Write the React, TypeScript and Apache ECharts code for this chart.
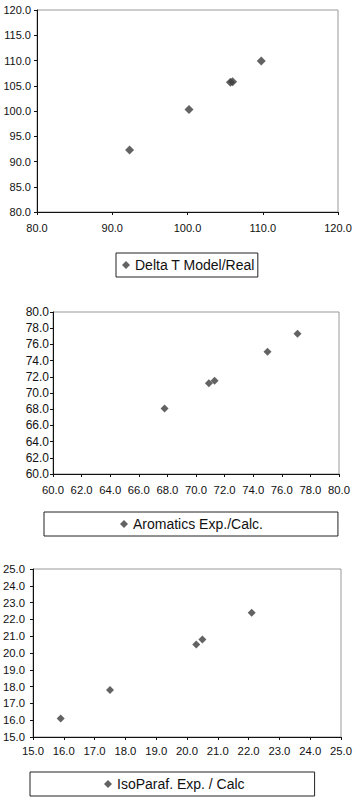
import React, { useEffect, useRef } from "react";
import * as echarts from "echarts";

const deltaTName = "Delta T Model/Real";
const deltaTX = [92.3, 100.2, 105.7, 106.0, 109.8];
const deltaTY = [92.3, 100.3, 105.7, 105.8, 109.9];

const aromName = "Aromatics Exp./Calc.";
const aromX = [67.8, 70.9, 71.3, 75.0, 77.1];
const aromY = [68.1, 71.2, 71.5, 75.1, 77.3];

const isoName = "IsoParaf. Exp. / Calc";
const isoX = [15.9, 17.5, 20.3, 20.5, 22.1];
const isoY = [16.1, 17.8, 20.5, 20.8, 22.4];

const FONT = "Liberation Sans, Arial, sans-serif";
const MARK = "#3c3c3c";

function axis(gridIndex: number, min: number, max: number, interval: number, fontSize: number, margin: number) {
  return {
    type: "value",
    gridIndex,
    min,
    max,
    interval,
    axisLine: { show: true, onZero: false, lineStyle: { color: "#111", width: 1 } },
    axisTick: { show: true, inside: false, length: 3, lineStyle: { color: "#111" } },
    splitLine: { show: false },
    axisLabel: {
      fontFamily: FONT,
      fontSize,
      color: "#111",
      margin,
      formatter: (v: number) => v.toFixed(1),
    },
  };
}

function legend(name: string, left: number, top: number, padding: number[]) {
  return {
    data: [{ name, icon: "diamond" }],
    left,
    top,
    orient: "horizontal",
    padding,
    itemWidth: 8,
    itemHeight: 8,
    selectedMode: false,
    borderColor: "#222",
    borderWidth: 1,
    textStyle: { fontFamily: FONT, fontSize: 14, color: "#111" },
  };
}

export default function App() {
  const ref = useRef<HTMLDivElement>(null);
  useEffect(() => {
    document.body.style.margin = "0";
    const chart = echarts.init(ref.current!, undefined, { renderer: "svg" });
    const pair = (xs: number[], ys: number[]) => xs.map((x, i) => [x, ys[i]]);
    chart.setOption({
      animation: false,
      backgroundColor: "#fff",
      grid: [
        { left: 37, top: 10, width: 301, height: 202, show: true, borderColor: "#999", borderWidth: 1 },
        { left: 53, top: 312, width: 286, height: 162, show: true, borderColor: "#999", borderWidth: 1 },
        { left: 31, top: 569, width: 310, height: 168, show: true, borderColor: "#999", borderWidth: 1 },
      ],
      xAxis: [
        axis(0, 80, 120, 10, 11, 10),
        axis(1, 60, 80, 2, 11.3, 10),
        axis(2, 15, 25, 1, 11.3, 8),
      ],
      yAxis: [
        axis(0, 80, 120, 5, 11, 6),
        axis(1, 60, 80, 2, 12, 4),
        axis(2, 15, 25, 1, 11.3, 8),
      ],
      legend: [
        legend(deltaTName, 116, 253, [5, 3, 5, 6]),
        legend(aromName, 44, 512, [5, 75, 5, 76]),
        legend(isoName, 30, 772, [5, 70, 5, 74]),
      ],
      series: [
        {
          name: deltaTName,
          type: "scatter",
          xAxisIndex: 0,
          yAxisIndex: 0,
          symbol: "diamond",
          symbolSize: 9,
          itemStyle: { color: MARK },
          data: pair(deltaTX, deltaTY),
        },
        {
          name: aromName,
          type: "scatter",
          xAxisIndex: 1,
          yAxisIndex: 1,
          symbol: "diamond",
          symbolSize: 8,
          itemStyle: { color: MARK },
          data: pair(aromX, aromY),
        },
        {
          name: isoName,
          type: "scatter",
          xAxisIndex: 2,
          yAxisIndex: 2,
          symbol: "diamond",
          symbolSize: 8,
          itemStyle: { color: MARK },
          data: pair(isoX, isoY),
        },
      ],
    });
    return () => chart.dispose();
  }, []);
  return <div ref={ref} style={{ width: 358, height: 803 }} />;
}
